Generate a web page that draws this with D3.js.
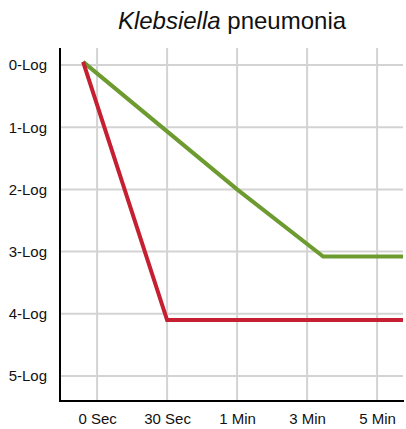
<!DOCTYPE html>
<html><head><meta charset="utf-8">
<script src="https://cdn.jsdelivr.net/npm/d3@7"></script>
<style>body{margin:0;background:#fff}svg{display:block}text{font-family:"Liberation Sans",Arial,sans-serif}</style>
</head><body>
<svg id="c" width="406" height="429"></svg>
<script>
const categories = ["0 Sec","30 Sec","1 Min","3 Min","5 Min"];
const yTicks = [0,1,2,3,4,5];
const yTickLabels = ["0-Log","1-Log","2-Log","3-Log","4-Log","5-Log"];
// x in category-index units, y in log reduction
const greenX = [-0.2, 2, 3.23, 4.37];
const greenY = [-0.05, 2.0, 3.08, 3.08];
const redX = [-0.2, 1, 4.37];
const redY = [-0.05, 4.1, 4.1];

(function(){
const svg = d3.select("#c");
const x = d3.scaleLinear().domain([-0.53, 4.37]).range([60, 403]);
const y = d3.scaleLinear().domain([0, 5]).range([65, 376]);
const plotTop = 48, plotBottom = 401;

// grid
svg.append("g").selectAll("line").data(yTicks).join("line")
  .attr("x1", 60).attr("x2", 403).attr("y1", d => y(d)).attr("y2", d => y(d))
  .attr("stroke", "#d3d3d3").attr("stroke-width", 2);
svg.append("g").selectAll("line").data(categories).join("line")
  .attr("x1", (d,i) => x(i)).attr("x2", (d,i) => x(i)).attr("y1", plotTop).attr("y2", plotBottom)
  .attr("stroke", "#d3d3d3").attr("stroke-width", 2);

// axes
const yAxis = d3.axisLeft(y).tickValues(yTicks).tickFormat((d,i) => yTickLabels[i]).tickSize(0).tickPadding(13);
const gy = svg.append("g").attr("transform", "translate(60,0)").call(yAxis);
gy.select(".domain").remove();
gy.selectAll("text").attr("font-size", 15).attr("fill", "#111").style("font-family", "Liberation Sans, Arial, sans-serif");
const xAxis = d3.axisBottom(x).tickValues(d3.range(categories.length)).tickFormat(i => categories[i]).tickSize(0).tickPadding(12);
const gx = svg.append("g").attr("transform", `translate(0,${plotBottom})`).call(xAxis);
gx.select(".domain").remove();
gx.selectAll("text").attr("font-size", 15).attr("fill", "#111").style("font-family", "Liberation Sans, Arial, sans-serif");

svg.append("line").attr("x1", 60).attr("x2", 60).attr("y1", plotTop).attr("y2", plotBottom + 1)
  .attr("stroke", "#000").attr("stroke-width", 2);
svg.append("line").attr("x1", 59).attr("x2", 404).attr("y1", plotBottom).attr("y2", plotBottom)
  .attr("stroke", "#000").attr("stroke-width", 2);

// lines
const line = d3.line().x(d => x(d[0])).y(d => y(d[1]));
svg.append("path").datum(greenX.map((v,i) => [v, greenY[i]]))
  .attr("d", line).attr("fill", "none").attr("stroke", "#6d9b30").attr("stroke-width", 4).attr("stroke-linejoin", "miter");
svg.append("path").datum(redX.map((v,i) => [v, redY[i]]))
  .attr("d", line).attr("fill", "none").attr("stroke", "#c51f32").attr("stroke-width", 4).attr("stroke-linejoin", "miter");

// title
const t = svg.append("text").attr("x", 232).attr("y", 29).attr("text-anchor", "middle")
  .attr("font-size", 24).attr("fill", "#111");
t.append("tspan").attr("font-style", "italic").text("Klebsiella");
t.append("tspan").text(" pneumonia");
})();
</script>
</body></html>
